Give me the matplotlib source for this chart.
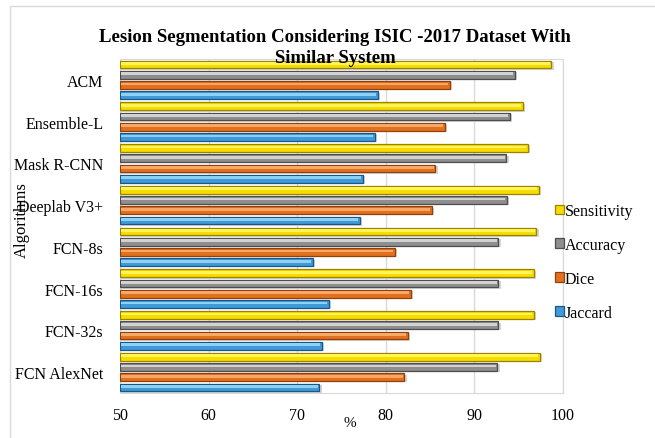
import numpy as np
import matplotlib.pyplot as plt
from matplotlib.patches import Rectangle

plt.rcParams['font.family'] = ['Liberation Serif', 'DejaVu Serif']

algorithms = ['FCN AlexNet', 'FCN-32s', 'FCN-16s', 'FCN-8s',
              'Deeplab V3+', 'Mask R-CNN', 'Ensemble-L', 'ACM']
jaccard = [72.5, 72.8, 73.6, 71.8, 77.1, 77.4, 78.8, 79.1]
dice = [82.1, 82.5, 82.8, 81.0, 85.2, 85.6, 86.7, 87.2]
accuracy = [92.6, 92.7, 92.7, 92.7, 93.7, 93.6, 94.0, 94.6]
sensitivity = [97.4, 96.7, 96.7, 97.0, 97.3, 96.0, 95.5, 98.7]

# name, values, face, edge, highlight
series = [('Jaccard', jaccard, '#3f9bd8', '#1d5686', '#8fd0f5'),
          ('Dice', dice, '#e2711f', '#8f400e', '#f7a866'),
          ('Accuracy', accuracy, '#8e8e8e', '#4d4d4d', '#d2d2d2'),
          ('Sensitivity', sensitivity, '#f7dc00', '#9c8200', '#fff45a')]

fig = plt.figure(figsize=(6.55, 4.39), dpi=100)
fig.patches.append(Rectangle((10/655, -0.01), 1, 1 - 7/439 + 0.01, transform=fig.transFigure,
                             fill=False, edgecolor='#d9d9d9', linewidth=1))
ax = fig.add_axes([120/655, 1 - 394/439, 443/655, 334/439])

y = np.arange(len(algorithms))
pitch = 0.245
h = 0.19
offsets = [-1.5 * pitch, -0.5 * pitch, 0.5 * pitch, 1.5 * pitch]
for (name, vals, col, edge, hi), off in zip(series, offsets):
    w = np.array(vals) - 50
    # drop shadow
    ax.barh(y + off - 0.03, w + 0.25, left=50, height=h,
            color='#d4d4d4', zorder=2)
    ax.barh(y + off, w, left=50, height=h,
            color=col, edgecolor=edge, linewidth=0.9, label=name, zorder=3)
    # bevel highlight
    ax.barh(y + off + h * 0.12, w - 0.35, left=50.15, height=h * 0.35,
            color=hi, linewidth=0, zorder=4)

ax.set_xlim(50, 100)
ax.set_ylim(-0.5, len(algorithms) - 0.5)
ax.set_xticks([50, 60, 70, 80, 90, 100])
ax.set_yticks(y)
ax.set_yticklabels(algorithms)
ax.tick_params(length=0, labelsize=11.5, pad=12)
ax.tick_params(axis='x', pad=10)
ax.grid(axis='x', color='#d9d9d9', linewidth=1, zorder=0)
ax.set_axisbelow(True)
for s in ax.spines.values():
    s.set_color('#d9d9d9')

fig.text(335/655, 1 - 48/439, 'Lesion Segmentation Considering ISIC -2017 Dataset With\nSimilar System',
         ha='center', va='center', fontsize=13.5, fontweight='bold', linespacing=1.35)
fig.text(22/655, 1 - 220/439, 'Algorithms', rotation=90, ha='center', va='center', fontsize=12)
fig.text(350/655, 1 - 424/439, '%', ha='center', va='center', fontsize=11)

handles, labels = ax.get_legend_handles_labels()
fig.legend(handles[::-1], labels[::-1], loc='upper left', bbox_to_anchor=(547/655, 1 - 196/439),
           frameon=False, fontsize=11.5, handlelength=0.55, handleheight=0.55, handletextpad=0.05,
           labelspacing=1.12, borderpad=0)

fig.savefig('out.png', dpi=100)
